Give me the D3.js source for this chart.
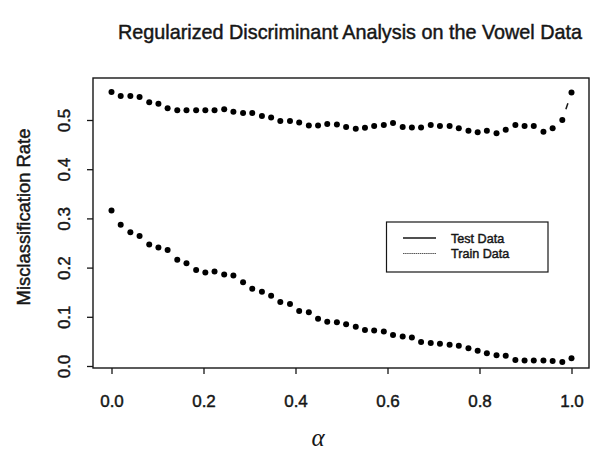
<!DOCTYPE html>
<html><head><meta charset="utf-8">
<script src="https://cdn.jsdelivr.net/npm/d3@7"></script>
<style>
html,body{margin:0;padding:0;background:#fff;}
svg{display:block;font-family:"Liberation Sans",Arial,Helvetica,sans-serif;}
</style></head>
<body>
<script>
// alpha values (50 equally spaced values from 0 to 1)
const alpha = [0.000,0.020,0.041,0.061,0.082,0.102,0.122,0.143,0.163,0.184,
  0.204,0.224,0.245,0.265,0.286,0.306,0.327,0.347,0.367,0.388,
  0.408,0.429,0.449,0.469,0.490,0.510,0.531,0.551,0.571,0.592,
  0.612,0.633,0.653,0.673,0.694,0.714,0.735,0.755,0.776,0.796,
  0.816,0.837,0.857,0.878,0.898,0.918,0.939,0.959,0.980,1.000];
const testRate = [0.557,0.549,0.549,0.547,0.536,0.533,0.524,0.520,0.520,0.520,
  0.520,0.520,0.522,0.517,0.514,0.514,0.508,0.505,0.498,0.498,
  0.495,0.489,0.489,0.492,0.491,0.486,0.482,0.484,0.488,0.490,
  0.494,0.486,0.485,0.485,0.490,0.488,0.488,0.483,0.478,0.475,
  0.478,0.473,0.480,0.490,0.488,0.488,0.476,0.483,0.500,0.556];
const trainRate = [0.316,0.287,0.272,0.264,0.247,0.241,0.236,0.216,0.209,0.195,
  0.190,0.192,0.186,0.184,0.170,0.157,0.151,0.143,0.130,0.126,
  0.112,0.109,0.096,0.090,0.089,0.085,0.080,0.073,0.072,0.070,
  0.063,0.060,0.058,0.049,0.047,0.045,0.043,0.041,0.036,0.031,
  0.026,0.022,0.021,0.012,0.011,0.011,0.011,0.010,0.008,0.016];
const xTicks = [0.0,0.2,0.4,0.6,0.8,1.0];
const yTicks = [0.0,0.1,0.2,0.3,0.4,0.5];
const seriesNames = ["Test Data","Train Data"];
const titleText = "Regularized Discriminant Analysis on the Vowel Data";
const yTitle = "Misclassification Rate";
const xTitle = "\u03B1";

const W = 592, H = 452;
const box = {left:93, right:589, top:78, bottom:368};
const x = d3.scaleLinear().domain([0,1]).range([111.5,571.5]);
const y = d3.scaleLinear().domain([0,0.5]).range([366,120]);

const svg = d3.select("body").append("svg").attr("width",W).attr("height",H);
const ink = "#161616";
const thick = s => s.attr("stroke",ink).attr("stroke-width",0.45).attr("paint-order","stroke");

// title
svg.append("text").attr("x",350).attr("y",39).attr("text-anchor","middle")
  .attr("font-size",19.8).attr("fill",ink).text(titleText).call(thick);

// plot box
svg.append("rect").attr("x",box.left).attr("y",box.top)
  .attr("width",box.right-box.left).attr("height",box.bottom-box.top)
  .attr("fill","none").attr("stroke",ink).attr("stroke-width",1.4);

// x axis
const gx = svg.append("g").attr("transform",`translate(0,${box.bottom})`)
  .call(d3.axisBottom(x).tickValues(xTicks).tickFormat(d3.format(".1f")).tickSize(6));
gx.select(".domain").remove();
gx.selectAll("line").attr("stroke",ink).attr("stroke-width",1.3);
gx.selectAll("text").attr("y",39).attr("dy",0).attr("font-size",17)
  .attr("fill",ink).attr("font-family","Liberation Sans, Arial, sans-serif").call(thick);

// y axis
const gy = svg.append("g").attr("transform",`translate(${box.left},0)`)
  .call(d3.axisLeft(y).tickValues(yTicks).tickFormat(d3.format(".1f")).tickSize(6));
gy.select(".domain").remove();
gy.selectAll("line").attr("stroke",ink).attr("stroke-width",1.3);
gy.selectAll("text").attr("x",0).attr("dy",0).attr("text-anchor","middle")
  .attr("transform","translate(-23,0) rotate(-90)").attr("font-size",17)
  .attr("fill",ink).attr("font-family","Liberation Sans, Arial, sans-serif").call(thick);

// axis titles
svg.append("text").attr("transform","translate(30,217) rotate(-90)")
  .attr("text-anchor","middle").attr("font-size",18.4).attr("fill",ink).text(yTitle).call(thick);
svg.append("text").attr("x",318).attr("y",446).attr("text-anchor","middle")
  .attr("font-family","Liberation Serif, serif").attr("font-style","italic")
  .attr("font-size",25).attr("fill",ink).text(xTitle);

// series drawn like R type="b": points plus line segments with a gap around points
const gap = 11.3;
function drawSeries(vals, dash){
  const pts = alpha.map((a,i)=>[x(a), y(vals[i])]);
  const g = svg.append("g");
  for(let i=0;i<pts.length-1;i++){
    const [x1,y1]=pts[i],[x2,y2]=pts[i+1];
    const d=Math.hypot(x2-x1,y2-y1);
    if(d>2*gap){
      const ux=(x2-x1)/d, uy=(y2-y1)/d;
      g.append("line").attr("x1",x1+ux*gap).attr("y1",y1+uy*gap)
        .attr("x2",x2-ux*gap).attr("y2",y2-uy*gap)
        .attr("stroke",ink).attr("stroke-width",1.5)
        .attr("stroke-dasharray",dash?"1,2":null);
    }
  }
  g.selectAll("circle").data(pts).join("circle")
    .attr("cx",d=>d[0]).attr("cy",d=>d[1]).attr("r",3).attr("fill","#000");
}
drawSeries(testRate,false);
drawSeries(trainRate,true);

// legend
const lg = svg.append("g");
lg.append("rect").attr("x",386.5).attr("y",222).attr("width",161.5).attr("height",50)
  .attr("fill","#fff").attr("stroke",ink).attr("stroke-width",1.2);
const legY = [238,253.5];
seriesNames.forEach((n,i)=>{
  lg.append("line").attr("x1",403).attr("x2",436).attr("y1",legY[i]).attr("y2",legY[i])
    .attr("stroke", i===0?ink:"#555").attr("stroke-width", i===0?1.5:1)
    .attr("stroke-dasharray", i===0?null:"1.5,0.6");
  lg.append("text").attr("x",451).attr("y",legY[i]+4.7).attr("font-size",12.6)
    .attr("fill",ink).text(n).call(thick);
});
</script>
</body></html>
